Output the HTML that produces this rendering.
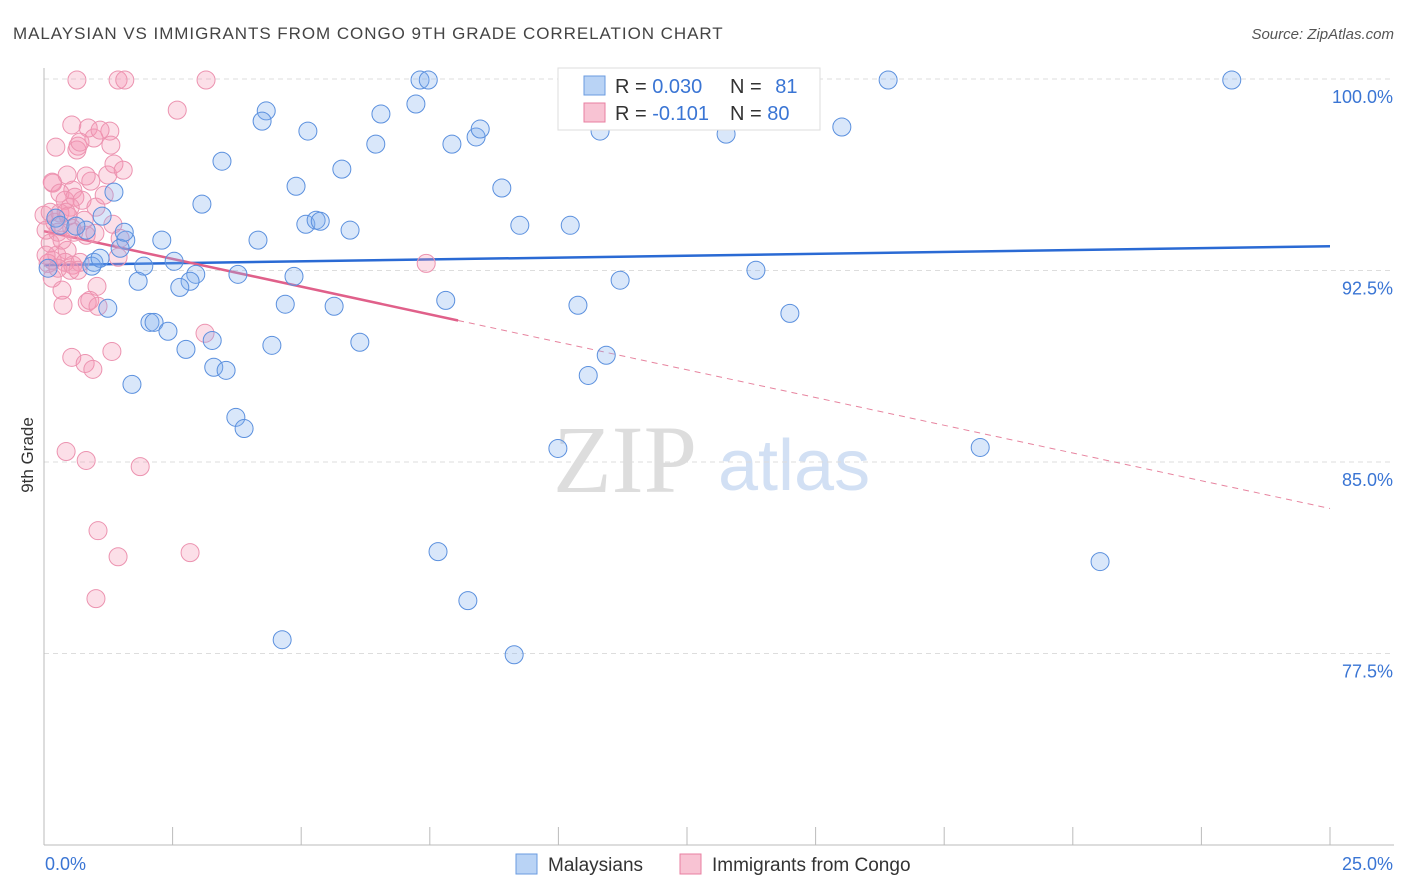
<!DOCTYPE html>
<html><head><meta charset="utf-8"><style>
body{margin:0;background:#fff;font-family:"Liberation Sans",sans-serif;}
svg{display:block}
</style></head><body>
<svg id="chart" width="1406" height="892">
<text x="13" y="39" font-size="17" fill="#444" letter-spacing="0.95">MALAYSIAN VS IMMIGRANTS FROM CONGO 9TH GRADE CORRELATION CHART</text>
<text x="1394" y="39" font-size="15" fill="#555" font-style="italic" text-anchor="end">Source: ZipAtlas.com</text>
<text transform="translate(33,455) rotate(-90)" font-size="17" fill="#333" text-anchor="middle">9th Grade</text>
<g>
<text x="553" y="492" font-family="Liberation Serif,serif" font-size="96" fill="#ddd">ZIP</text>
<text x="718" y="490" font-size="72" fill="#d2e0f4">atlas</text>
</g>
<g id="grid"></g><g id="axes"></g><g id="lines"></g><g id="pts"></g>
<g>
<rect x="558" y="68" width="262" height="62" fill="#fff" stroke="#ddd"/>
<rect x="584" y="76" width="21" height="19" fill="#b9d3f5" stroke="#6a9be0"/>
<rect x="584" y="103" width="21" height="19" fill="#f8c3d3" stroke="#e87fa0"/>
<text x="615" y="93" font-size="20" fill="#333">R = <tspan fill="#3a75d4">0.030</tspan></text>
<text x="730" y="93" font-size="20" fill="#333">N = <tspan fill="#3a75d4" dx="8">81</tspan></text>
<text x="615" y="120" font-size="20" fill="#333">R = <tspan fill="#3a75d4">-0.101</tspan></text>
<text x="730" y="120" font-size="20" fill="#333">N = <tspan fill="#3a75d4">80</tspan></text>
</g>
<g>
<rect x="516" y="854" width="21" height="20" fill="#b9d3f5" stroke="#6a9be0"/>
<text x="548" y="871" font-size="19" fill="#333">Malaysians</text>
<rect x="680" y="854" width="21" height="20" fill="#f8c3d3" stroke="#e87fa0"/>
<text x="712" y="871" font-size="19" fill="#333">Immigrants from Congo</text>
</g>
</svg>
<script>
const yTicks=[100,92.5,85,77.5];
const yTickLabels=["100.0%","92.5%","85.0%","77.5%"];
const blueX=[1.36,3.46,4.32,4.24,5.13,6.55,6.45,7.23,7.31,7.47,7.93,8.40,8.48,5.79,4.90,3.07,1.13,0.23,0.82,5.09,5.29,5.37,5.95,4.16,2.29,1.59,1.48,0.97,0.93,1.94,2.53,2.95,2.84,2.64,1.83,1.24,2.06,2.14,2.41,3.77,4.86,4.69,5.64,2.76,3.27,4.43,6.14,3.30,3.54,1.71,3.73,3.89,7.81,8.90,9.25,10.23,10.81,11.20,10.38,10.93,10.58,11.51,13.26,14.11,13.84,14.50,15.51,16.41,23.09,18.20,20.53,9.99,7.66,8.24,4.63,9.14,0.08,0.31,1.09,0.62,1.56];
const blueY=[95.57,96.78,98.75,98.35,97.96,98.63,97.45,99.02,99.96,99.96,97.45,97.73,98.04,96.47,95.80,95.10,94.63,94.55,94.08,94.31,94.47,94.43,94.08,93.69,93.69,93.69,93.37,92.82,92.67,92.67,92.86,92.35,92.08,91.84,92.08,91.02,90.47,90.47,90.12,92.35,92.27,91.18,91.10,89.41,89.76,89.57,89.69,88.71,88.59,88.04,86.75,86.31,91.33,95.73,94.27,94.27,97.96,92.12,91.14,89.18,88.39,99.96,97.84,99.96,92.51,90.82,98.12,99.96,99.96,85.57,81.10,85.53,81.49,79.57,78.04,77.45,92.59,94.27,92.98,94.24,94.00];
const pinkX=[0.64,1.44,1.57,3.15,2.59,0.54,0.23,0.86,0.97,1.28,1.30,0.66,0.64,0.70,0.17,0.45,0.16,0.56,0.91,1.24,1.36,1.54,0.31,0.41,0.60,0.74,0.51,1.01,1.34,0.21,0.82,0.99,0.12,0.45,0.25,0.16,0.41,0.56,0.70,0.51,0.16,1.48,1.44,1.03,0.37,0.84,0.89,1.05,3.13,0.54,0.80,0.95,1.32,0.43,0.82,1.87,1.05,1.44,1.01,2.84,7.43,0.08,0.00,0.12,0.31,1.09,0.43,0.27,0.54,0.78,0.66,0.35,0.04,0.04,0.27,0.58,0.35,1.17,0.82,0.47];
const pinkY=[99.96,99.96,99.96,99.96,98.78,98.20,97.33,98.08,97.69,97.96,97.41,97.37,97.22,97.53,95.92,96.24,95.96,95.65,96.00,96.24,96.67,96.43,95.53,95.25,95.37,95.25,94.98,94.98,94.31,94.39,93.88,93.96,93.57,93.29,93.10,92.90,92.82,92.71,92.82,92.51,92.20,93.76,93.02,91.88,91.14,91.25,91.33,91.10,90.04,89.10,88.86,88.63,89.33,85.41,85.06,84.82,82.31,81.29,79.65,81.45,92.78,92.78,94.67,94.78,94.75,98.00,94.78,94.00,94.16,94.47,92.51,91.73,94.08,93.10,92.59,94.00,93.69,95.45,96.20,94.63];
const blueTrend=[92.71,93.45];
const pinkTrend=[94.04,83.18];
const pinkSolidEnd=8.05;
const NS="http://www.w3.org/2000/svg";
const xs=v=>44+v*(1286/25);
const ys=v=>845-(v-70)*(766/30);
function mk(tag,parent,attrs){const e=document.createElementNS(NS,tag);for(const k in attrs)e.setAttribute(k,attrs[k]);document.getElementById(parent).appendChild(e);return e;}
yTicks.forEach((t,i)=>{
 const g=mk('line','grid',{x1:44,x2:1394,y1:ys(t),y2:ys(t),stroke:'#ddd','stroke-dasharray':'5,4'});
 
 
 const l=mk('text','grid',{x:1393,y:ys(t)+24,'font-size':18,fill:'#3a75d4','text-anchor':'end'});
 l.textContent=yTickLabels[i];
 
 
});
const ax=mk('line','axes',{x1:44,x2:44,y1:68,y2:845,stroke:'#bbb'});


const bx=mk('line','axes',{x1:44,x2:1394,y1:845,y2:845,stroke:'#bbb'});


for(let i=0;i<=10;i++){const t=mk('line','axes',{x1:xs(i*2.5),x2:xs(i*2.5),y1:827,y2:845,stroke:'#bbb'});
 
 }
const x0=mk('text','axes',{x:45,y:870,'font-size':18,fill:'#3a75d4'});x0.textContent='0.0%';


const x1=mk('text','axes',{x:1393,y:870,'font-size':18,fill:'#3a75d4','text-anchor':'end'});x1.textContent='25.0%';


function pts(X,Y,fill,stroke,name){X.forEach((x,i)=>{const c=mk('circle','pts',{cx:xs(x),cy:ys(Y[i]),r:9,fill:fill,stroke:stroke,'stroke-width':1});
 
 });}
pts(pinkX,pinkY,'rgba(244,150,180,0.3)','#ec93b0','congo-point');
pts(blueX,blueY,'rgba(130,175,240,0.3)','#5b90de','malaysian-point');
const pAt=x=>pinkTrend[0]+(pinkTrend[1]-pinkTrend[0])*x/25;
const bl=mk('line','lines',{x1:xs(0),y1:ys(blueTrend[0]),x2:xs(25),y2:ys(blueTrend[1]),stroke:'#2a6ad4','stroke-width':2.5});


const pl=mk('line','lines',{x1:xs(0),y1:ys(pAt(0)),x2:xs(pinkSolidEnd),y2:ys(pAt(pinkSolidEnd)),stroke:'#e0608a','stroke-width':2.5});


const pd=mk('line','lines',{x1:xs(pinkSolidEnd),y1:ys(pAt(pinkSolidEnd)),x2:xs(25),y2:ys(pAt(25)),stroke:'#e7849f','stroke-width':1,'stroke-dasharray':'6,5'});


</script>
</body></html>
